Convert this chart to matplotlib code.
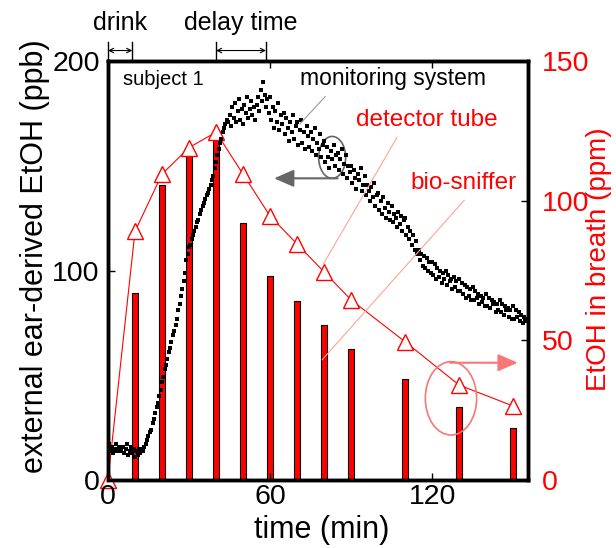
import numpy as np
import matplotlib.pyplot as plt
from matplotlib.patches import Ellipse

plt.rcParams['font.family'] = ['Liberation Sans', 'DejaVu Sans']

# --- detector-tube bars / bio-sniffer triangles (ppm, right axis) ---
bar_time = [10, 20, 30, 40, 50, 60, 70, 80, 90, 110, 130, 150]
bar_ppm = [67, 105.5, 118, 122.5, 92, 73, 64, 55.5, 47, 36, 26, 18.5]

tri_time = [0, 10, 20, 30, 40, 50, 60, 70, 80, 90, 110, 130, 150]
tri_ppm = [0, 89, 109.5, 119, 124.5, 109.5, 94.5, 84.5, 74.5, 64.5, 49.5, 34, 26.5]

# --- monitoring system (ppb, left axis), one reading every 0.5 min ---
mon_time = np.arange(0, 155.5, 0.5)
mon_ppb = [
    15, 17, 14, 16, 13, 15, 17, 14, 16, 15,
    14, 16, 13, 15, 17, 12, 14, 16, 13, 15,
    11, 14, 12, 15, 13, 15, 14, 16, 17, 19,
    21, 23, 24, 27, 29, 32, 35, 37, 40, 43,
    47, 49, 53, 55, 58, 61, 63, 66, 69, 71,
    74, 77, 81, 84, 88, 91, 95, 99, 105, 108,
    111, 112, 115, 117, 119, 121, 123, 124, 127, 129,
    131, 132, 134, 136, 137, 139, 141, 143, 145, 149,
    152, 155, 158, 161, 163, 166, 168, 170, 172, 171,
    174, 169, 178, 173, 180, 171, 176, 182, 172, 177,
    170, 179, 175, 183, 173, 177, 181, 174, 178, 172,
    179, 183, 176, 186, 181, 190, 184, 178, 182, 175,
    183, 172, 178, 168, 176, 171, 180, 167, 174, 170,
    175, 165, 173, 168, 162, 171, 166, 174, 163, 169,
    171, 160, 167, 172, 161, 166, 158, 169, 164, 159,
    166, 157, 163, 168, 155, 161, 158, 165, 154, 160,
    162, 152, 159, 154, 149, 157, 153, 160, 150, 155,
    156, 148, 153, 158, 146, 151, 155, 144, 150, 147,
    150, 142, 148, 144, 139, 146, 143, 149, 138, 141,
    145, 136, 141, 138, 133, 140, 135, 142, 131, 136,
    137, 129, 133, 127, 135, 130, 125, 132, 128, 124,
    131, 123, 127, 125, 121, 128, 122, 126, 119, 124,
    125, 117, 121, 115, 119, 112, 117, 110, 114, 108,
    110, 105, 108, 102, 107, 101, 106, 100, 104, 99,
    104, 98, 103, 96, 101, 97, 100, 94, 99, 96,
    100, 93, 98, 95, 96, 91, 97, 92, 95, 90,
    96, 90, 94, 89, 93, 87, 92, 88, 91, 86,
    92, 86, 90, 87, 89, 84, 88, 85, 87, 83,
    89, 83, 87, 82, 86, 84, 85, 80, 84, 81,
    86, 80, 84, 79, 83, 81, 82, 78, 81, 77,
    83, 77, 81, 78, 80, 76, 79, 75, 78, 76, 77,
]

fig = plt.figure(figsize=(6.16, 5.48), dpi=100)
ax = fig.add_axes([0.1753, 0.124, 0.6818, 0.7647])
ax2 = ax.twinx()

# right axis: bars + triangles
ax2.bar(bar_time, bar_ppm, width=2, color='red', edgecolor='black', linewidth=0.8, zorder=2)
ax2.plot(tri_time, tri_ppm, color='red', lw=0.8, marker='^', markersize=12,
         mfc='white', mec='red', mew=1, zorder=3, clip_on=False)
ax2.set_ylim(0, 150)
ax2.set_yticks([0, 50, 100, 150])
ax2.tick_params(axis='y', direction='in', length=5, width=1, color='black',
                labelcolor='red', labelsize=20.5, pad=10)
ax2.set_ylabel('EtOH in breath (ppm)', color='red', fontsize=20)
ax2.yaxis.set_label_coords(1.138, 0.526)

# left axis on top so the monitoring points overlay the bars
ax.set_zorder(ax2.get_zorder() + 1)
ax.patch.set_visible(False)
ax.plot(mon_time, mon_ppb, ls='none', marker='s', markersize=3.4, color='black', mew=0)
ax.set_xlim(0, 155.5)
ax.set_ylim(0, 200)
ax.set_xticks([0, 60, 120])
ax.set_yticks([0, 100, 200])
ax.tick_params(direction='in', length=5, width=1, labelsize=20.5, top=True, pad=6)
ax.tick_params(axis='x', pad=3)
ax.set_xlabel('time (min)', fontsize=22)
ax.xaxis.set_label_coords(0.51, -0.084)
ax.set_ylabel('external ear-derived EtOH (ppb)', fontsize=22)
ax.yaxis.set_label_coords(-0.138, 0.535)
for a in (ax, ax2):
    for s in a.spines.values():
        s.set_linewidth(2.5)

# --- annotations ---
ax.text(5.5, 191, 'subject 1', fontsize=14.5, va='center')
ax.text(105.5, 191.5, 'monitoring system', fontsize=16.5, ha='center', va='center')
ax.plot([80.4, 71.1], [183, 170], color='#999999', lw=0.8)
ax.text(118, 172, 'detector tube', fontsize=17.5, color='red', ha='center', va='center')
ax.plot([107, 79.7], [163.5, 103], color='#f8a890', lw=0.8)
ax.text(131.5, 142, 'bio-sniffer', fontsize=17.5, color='red', ha='center', va='center')
ax.plot([131.9, 79.3], [133.5, 57.4], color='#f8a890', lw=0.8)

ax.add_patch(Ellipse((83, 154), 10, 20, fill=False, ec='#666666', lw=1.2))
ax.annotate('', xy=(61.5, 144), xytext=(85, 144),
            arrowprops=dict(arrowstyle='-|>,head_length=0.8,head_width=0.35',
                            color='#666666', lw=1.5, mutation_scale=15,
                            shrinkA=0, shrinkB=0))
ax.add_patch(Ellipse((127, 39), 19, 35, fill=False, ec='#f77777', lw=1.2))
ax.annotate('', xy=(151.7, 56), xytext=(126.7, 56),
            arrowprops=dict(arrowstyle='-|>,head_length=0.8,head_width=0.35',
                            color='#f77777', lw=1.5, mutation_scale=15,
                            shrinkA=0, shrinkB=0))

# top markers: drink / delay time
for x0, x1, label in [(0, 9, 'drink'), (40, 58.5, 'delay time')]:
    ax.annotate('', xy=(x0, 205), xytext=(x1, 205), annotation_clip=False,
                arrowprops=dict(arrowstyle='<->', color='black', lw=0.8,
                                shrinkA=0, shrinkB=0, mutation_scale=8))
    for xx in (x0, x1):
        ax.plot([xx, xx], [200, 209], color='black', lw=1, clip_on=False)
    ax.text((x0 + x1) / 2, 218, label, fontsize=18, ha='center', va='center')

fig.savefig('out.png', dpi=100)
